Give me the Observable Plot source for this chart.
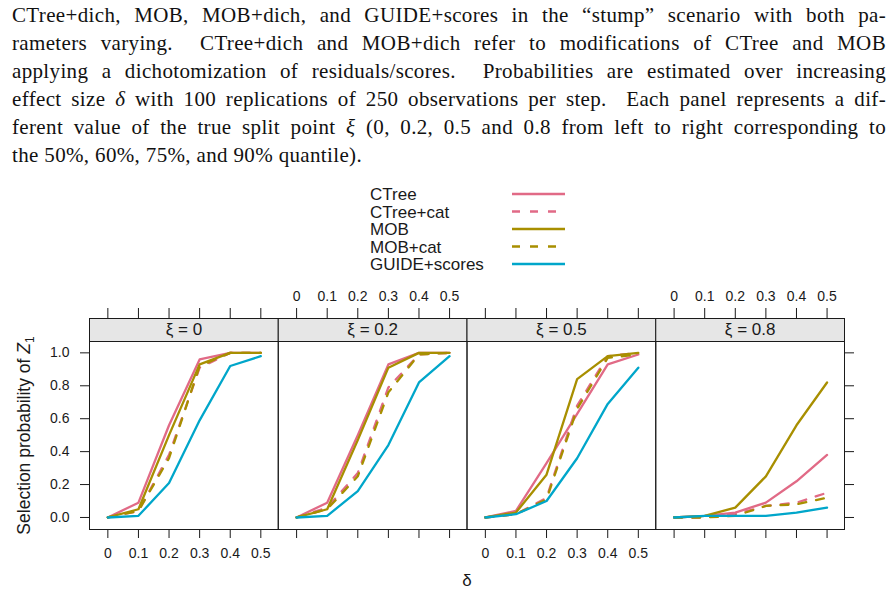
<!DOCTYPE html>
<html>
<head>
<meta charset="utf-8">
<script src="https://cdn.jsdelivr.net/npm/d3@7"></script>
<script src="https://cdn.jsdelivr.net/npm/@observablehq/plot@0.6"></script>
<style>
  html, body { margin: 0; padding: 0; background: #fff; }
  body { position: relative; width: 894px; height: 595px; overflow: hidden; }
  #caption { position: absolute; left: 12px; top: 1px; width: 874px;
    font-family: "Liberation Serif", "Times New Roman", serif; font-size: 21px; line-height: 28px;
    letter-spacing: 0.35px; color: #111; }
  #caption .j { text-align: justify; text-align-last: justify; }
  #legend { position: absolute; left: 0; top: 180px; }
  #chart { position: absolute; left: 0; top: 280px; }
</style>
</head>
<body>
<div id="caption">
  <div class="j">CTree+dich, MOB, MOB+dich, and GUIDE+scores in the “stump” scenario with both pa-</div>
  <div class="j">rameters varying. &nbsp;CTree+dich and MOB+dich refer to modifications of CTree and MOB</div>
  <div class="j">applying a dichotomization of residuals/scores. &nbsp;Probabilities are estimated over increasing</div>
  <div class="j">effect size <i>δ</i> with 100 replications of 250 observations per step. &nbsp;Each panel represents a dif-</div>
  <div class="j">ferent value of the true split point <i>ξ</i> (0, 0.2, 0.5 and 0.8 from left to right corresponding to</div>
  <div>the 50%, 60%, 75%, and 90% quantile).</div>
</div>
<svg id="legend" width="894" height="95"></svg>
<div id="chart"></div>
<script>
// Effect sizes along the x axis and the true split points (one panel each)
const delta = [0, 0.1, 0.2, 0.3, 0.4, 0.5];
const deltaLabels = ["0", "0.1", "0.2", "0.3", "0.4", "0.5"];
const xiLevels = ["0", "0.2", "0.5", "0.8"];
const probTicks = [0, 0.2, 0.4, 0.6, 0.8, 1.0];

const methods = ["CTree", "CTree+cat", "MOB", "MOB+cat", "GUIDE+scores"];
const methodColors = ["#E16A86", "#E16A86", "#A88F00", "#A88F00", "#00A6CA"];
const methodDashes = [null, "8,10", null, "8,10", null];

// Selection probability of Z1: one row per split point ξ, one value per δ
const probCTree = [
  [0, 0.09, 0.56, 0.96, 1.00, 1.00],
  [0, 0.09, 0.50, 0.93, 1.00, 1.00],
  [0, 0.04, 0.33, 0.63, 0.93, 0.99],
  [0, 0.01, 0.03, 0.09, 0.22, 0.38]
];
const probCTreeCat = [
  [0, 0.04, 0.38, 0.91, 1.00, 1.00],
  [0, 0.06, 0.27, 0.79, 0.99, 1.00],
  [0, 0.02, 0.12, 0.68, 0.98, 1.00],
  [0, 0.00, 0.02, 0.07, 0.09, 0.15]
];
const probMOB = [
  [0, 0.05, 0.50, 0.93, 1.00, 1.00],
  [0, 0.05, 0.47, 0.91, 1.00, 1.00],
  [0, 0.03, 0.26, 0.84, 0.98, 1.00],
  [0, 0.01, 0.06, 0.25, 0.56, 0.82]
];
const probMOBCat = [
  [0, 0.04, 0.36, 0.92, 1.00, 1.00],
  [0, 0.05, 0.25, 0.76, 0.99, 1.00],
  [0, 0.02, 0.11, 0.66, 0.97, 0.99],
  [0, 0.00, 0.01, 0.07, 0.08, 0.12]
];
const probGUIDE = [
  [0, 0.01, 0.21, 0.59, 0.92, 0.98],
  [0, 0.01, 0.16, 0.44, 0.82, 0.98],
  [0, 0.02, 0.10, 0.36, 0.69, 0.91],
  [0, 0.01, 0.01, 0.01, 0.03, 0.06]
];

const series = [probCTree, probCTreeCat, probMOB, probMOBCat, probGUIDE];
const rows = [];
series.forEach((panels, m) => panels.forEach((vals, p) => vals.forEach((v, i) =>
  rows.push({method: methods[m], xi: xiLevels[p], delta: delta[i], prob: v}))));

// layout of the panel block
const W = 894, H = 315;
const MT = 61, MB = 66, ML = 89, MR = 50;
const FRAME_H = H - MT - MB;
const STRIP = 23, TICK = 9;
const ink = "#1a1a1a";
const font = "'Liberation Sans', Arial, Helvetica, sans-serif";

const xTickRows = xiLevels.flatMap(p => delta.map((v, i) => ({xi: p, v, label: deltaLabels[i]})));
const bottomLabelled = ["0", "0.5"];
const topLabelled = ["0.2", "0.8"];
const yLabel = "Selection probability of Z1";

const lineMarks = methods.map((name, m) =>
  Plot.line(rows.filter(d => d.method === name), {
    x: "delta", y: "prob", fx: "xi",
    stroke: methodColors[m], strokeWidth: 2.3,
    strokeDasharray: methodDashes[m] || undefined,
    strokeLinejoin: "round"
  }));

const chart = Plot.plot({
  width: W, height: H,
  marginTop: MT, marginBottom: MB, marginLeft: ML, marginRight: MR,
  style: {fontFamily: font, background: "transparent", color: ink, overflow: "visible"},
  x: {domain: [-0.06, 0.557], axis: null},
  y: {domain: [-0.073, 1.069], axis: null},
  fx: {domain: xiLevels, padding: 0, round: false, axis: null},
  marks: [
    // strip above each panel
    Plot.frame({fill: "#e6e6e6", stroke: ink, insetTop: -STRIP, insetBottom: FRAME_H}),
    Plot.text(xiLevels, {fx: d => d, text: d => `ξ = ${d}`, frameAnchor: "top",
      textAnchor: "middle", lineAnchor: "middle", dy: -STRIP / 2, fontSize: 17, fill: ink}),
    ...lineMarks,
    Plot.frame({stroke: ink}),
    // x ticks below and above every panel
    Plot.tickX(xTickRows, {x: "v", fx: "xi", insetTop: FRAME_H, insetBottom: -TICK, stroke: ink}),
    Plot.tickX(xTickRows, {x: "v", fx: "xi", insetTop: -(STRIP + TICK + 1), insetBottom: FRAME_H + STRIP, stroke: ink}),
    Plot.text(xTickRows.filter(d => bottomLabelled.includes(d.xi)), {x: "v", fx: "xi", text: "label",
      frameAnchor: "bottom", textAnchor: "middle", lineAnchor: "middle", dy: 24, fontSize: 14, fill: ink}),
    Plot.text(xTickRows.filter(d => topLabelled.includes(d.xi)), {x: "v", fx: "xi", text: "label",
      frameAnchor: "top", textAnchor: "middle", lineAnchor: "middle", dy: -45, fontSize: 14, fill: ink}),
    // y axes
    Plot.axisY({anchor: "left", ticks: probTicks, tickSize: TICK, tickPadding: 11,
      tickFormat: d3.format(".1f"), fontSize: 14, label: null, stroke: ink, fill: ink}),
    Plot.axisY({anchor: "right", ticks: probTicks, tickSize: TICK, tickFormat: () => "", label: null, stroke: ink}),
    // axis titles
    Plot.text([yLabel], {fx: () => xiLevels[0], text: d => d, frameAnchor: "left", rotate: -90,
      textAnchor: "middle", lineAnchor: "middle", dx: -65, fontSize: 17.5, fill: ink}),
    Plot.text(["δ"], {fx: () => xiLevels[1], text: d => d, frameAnchor: "bottom-right",
      textAnchor: "middle", lineAnchor: "middle", dy: 51, fontSize: 17, fill: ink})
  ]
});
document.getElementById("chart").appendChild(chart);

// italic Z with subscript 1 in the y title
chart.querySelectorAll("text").forEach(t => {
  if (t.textContent === yLabel) {
    t.innerHTML = "Selection probability of <tspan font-style=\"italic\">Z</tspan><tspan font-size=\"0.68em\" dy=\"0.35em\">1</tspan>";
  }
});

// key listing the five methods
const legend = d3.select("#legend");
const rowY = [14, 31.5, 49, 66.5, 84];
methods.forEach((name, m) => {
  legend.append("text").attr("x", 370).attr("y", rowY[m]).attr("dy", "0.36em")
    .attr("font-family", font).attr("font-size", 17).attr("fill", ink).text(name);
  legend.append("line").attr("x1", 512).attr("x2", 565).attr("y1", rowY[m]).attr("y2", rowY[m])
    .attr("stroke", methodColors[m]).attr("stroke-width", 2.3)
    .attr("stroke-dasharray", methodDashes[m]);
});
</script>
</body>
</html>
